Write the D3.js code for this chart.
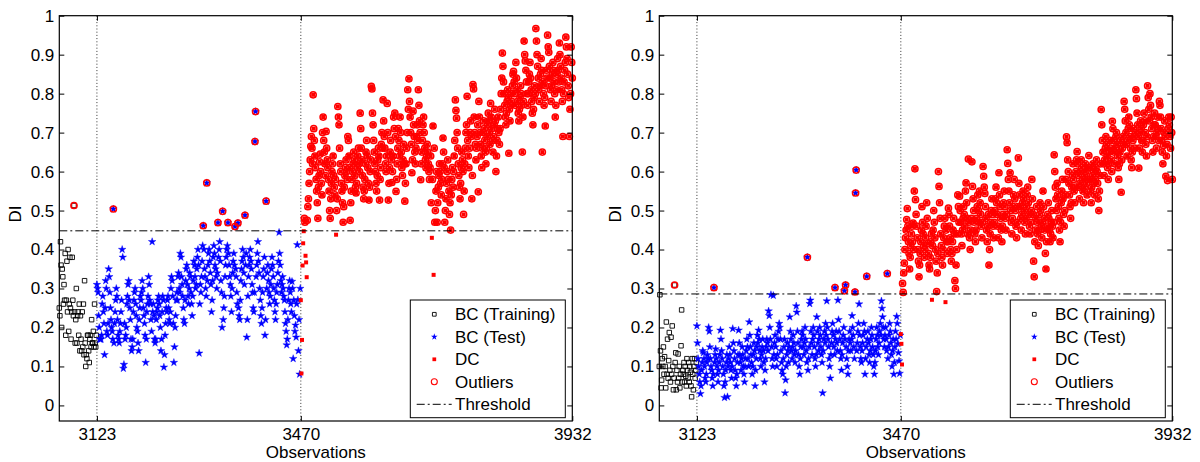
<!DOCTYPE html>
<html><head><meta charset="utf-8">
<script src="https://cdn.jsdelivr.net/npm/d3@7"></script>
<style>
html,body{margin:0;padding:0;background:#fff;}
svg text{font-family:"Liberation Sans",Arial,Helvetica,sans-serif;fill:#000;}
</style></head><body>
<svg id="chart" width="1200" height="462"></svg>
<script>
// Observation ranges
const obsStart = 3059, testStart = 3123, dcStart = 3470, obsEnd = 3932;
const xTicks = [3123, 3470, 3932];
const yTicks = [0, 0.1, 0.2, 0.3, 0.4, 0.5, 0.6, 0.7, 0.8, 0.9, 1];
const yTickLabels = ["0", "0.1", "0.2", "0.3", "0.4", "0.5", "0.6", "0.7", "0.8", "0.9", "1"];
const legendLabels = ["BC (Training)", "BC (Test)", "DC", "Outliers", "Threshold"];
const xLabel = "Observations", yLabel = "DI";

// Left panel: DI per observation
const thresholdLeft = 0.448;
const trainLeft = [
0.25,0.23,0.42,0.36,0.20,0.35,0.33,0.26,0.31,0.27,
0.39,0.18,0.27,0.37,0.24,0.40,0.19,0.26,0.38,0.25,
0.17,0.24,0.38,0.27,0.23,0.513,0.24,0.16,0.22,0.30,
0.16,0.23,0.24,0.18,0.26,0.14,0.23,0.17,0.14,0.24,
0.15,0.26,0.13,0.32,0.16,0.10,0.13,0.12,0.18,0.18,
0.14,0.11,0.17,0.18,0.15,0.22,0.16,0.16,0.19,0.15,
0.26,0.16,0.15,0.18];
const testLeft = [
0.31,0.30,0.29,0.23,0.20,0.17,0.17,0.17,0.18,0.26,0.28,0.24,0.21,0.13,0.25,0.32,0.30,0.19,0.18,0.21,
0.35,0.33,0.29,0.25,0.22,0.20,0.19,0.17,0.504,0.16,0.21,0.24,0.27,0.30,0.28,0.22,0.18,0.17,0.16,0.19,
0.21,0.24,0.27,0.40,0.38,0.095,0.105,0.21,0.17,0.18,0.20,0.26,0.28,0.31,0.32,0.27,0.25,0.22,0.17,0.14,
0.15,0.17,0.24,0.27,0.29,0.30,0.26,0.23,0.20,0.19,0.16,0.14,0.22,0.25,0.28,0.27,0.29,0.32,0.30,0.25,
0.23,0.21,0.18,0.11,0.17,0.24,0.26,0.28,0.33,0.31,0.27,0.26,0.22,0.19,0.42,0.24,0.26,0.23,0.17,0.16,
0.17,0.22,0.24,0.25,0.27,0.28,0.26,0.23,0.20,0.14,0.17,0.24,0.28,0.27,0.098,0.13,0.18,0.21,0.25,0.24,
0.27,0.28,0.25,0.22,0.21,0.24,0.30,0.33,0.32,0.28,0.21,0.11,0.15,0.20,0.23,0.27,0.29,0.27,0.33,0.34,
0.30,0.29,0.39,0.38,0.33,0.31,0.28,0.25,0.22,0.21,0.27,0.32,0.35,0.36,0.31,0.28,0.26,0.30,0.34,0.33,
0.29,0.26,0.23,0.28,0.32,0.37,0.36,0.33,0.30,0.31,0.35,0.38,0.40,0.36,0.134,0.26,0.31,0.29,0.33,0.37,
0.41,0.461,0.40,0.35,0.33,0.30,0.28,0.571,0.32,0.36,0.39,0.40,0.37,0.34,0.31,0.24,0.27,0.32,0.38,0.41,
0.39,0.36,0.35,0.33,0.30,0.34,0.469,0.38,0.40,0.42,0.37,0.32,0.29,0.20,0.498,0.22,0.25,0.28,0.33,0.36,
0.38,0.40,0.41,0.469,0.39,0.36,0.33,0.31,0.28,0.24,0.30,0.34,0.37,0.39,0.36,0.459,0.35,0.33,0.29,0.26,
0.468,0.25,0.23,0.22,0.27,0.32,0.35,0.37,0.40,0.38,0.34,0.31,0.488,0.36,0.39,0.175,0.22,0.28,0.33,0.36,
0.38,0.40,0.37,0.35,0.31,0.29,0.25,0.24,0.29,0.677,0.754,0.33,0.36,0.39,0.42,0.37,0.34,0.30,0.27,0.23,
0.21,0.25,0.29,0.33,0.35,0.38,0.18,0.22,0.524,0.30,0.34,0.36,0.32,0.29,0.26,0.28,0.31,0.35,0.38,0.36,
0.33,0.30,0.27,0.24,0.22,0.26,0.29,0.31,0.34,0.37,0.444,0.39,0.36,0.32,0.29,0.31,0.33,0.30,0.28,0.27,
0.24,0.21,0.19,0.155,0.17,0.22,0.27,0.30,0.32,0.29,0.26,0.24,0.318,0.30,0.12,0.27,0.23,0.19,0.206,0.175,
0.26,0.412,0.271,0.14,0.22,0.08,0.30];
const dcLeft = [
0.27,0.082,0.168,0.359,0.416,0.447,0.48,0.47,0.384,0.367,0.329,0.475,0.51,0.53,0.57,0.60,0.63,0.665,0.69,0.66,
0.62,0.797,0.71,0.68,0.64,0.61,0.58,0.55,0.52,0.48,0.56,0.59,0.625,0.645,0.60,0.57,0.54,0.70,0.74,0.68,
0.65,0.62,0.59,0.703,0.66,0.63,0.61,0.58,0.55,0.50,0.48,0.53,0.57,0.60,0.62,0.64,0.59,0.56,0.54,0.58,
0.438,0.50,0.53,0.767,0.74,0.72,0.66,0.62,0.60,0.57,0.55,0.52,0.47,0.51,0.56,0.59,0.61,0.63,0.60,0.58,
0.69,0.68,0.64,0.61,0.475,0.52,0.55,0.58,0.60,0.62,0.65,0.63,0.59,0.56,0.545,0.57,0.61,0.64,0.66,0.62,
0.60,0.75,0.71,0.66,0.63,0.59,0.56,0.53,0.55,0.58,0.62,0.65,0.68,0.64,0.61,0.57,0.527,0.56,0.60,0.63,
0.819,0.812,0.75,0.72,0.68,0.65,0.62,0.60,0.57,0.55,0.59,0.63,0.66,0.64,0.527,0.58,0.61,0.67,0.70,0.66,
0.784,0.73,0.69,0.66,0.62,0.60,0.64,0.775,0.70,0.527,0.57,0.61,0.65,0.68,0.63,0.572,0.60,0.64,0.74,0.71,
0.75,0.69,0.549,0.58,0.62,0.66,0.71,0.68,0.64,0.74,0.70,0.65,0.61,0.59,0.63,0.67,0.62,0.524,0.57,0.62,
0.66,0.70,0.81,0.76,0.838,0.78,0.74,0.70,0.67,0.597,0.63,0.755,0.72,0.69,0.65,0.62,0.66,0.69,0.72,0.68,
0.81,0.77,0.73,0.70,0.579,0.62,0.65,0.68,0.72,0.74,0.70,0.66,0.63,0.61,0.64,0.67,0.65,0.62,0.60,0.58,
0.61,0.64,0.52,0.43,0.58,0.717,0.335,0.66,0.47,0.50,0.55,0.60,0.47,0.52,0.56,0.59,0.62,0.60,0.57,0.54,
0.58,0.62,0.686,0.65,0.61,0.47,0.50,0.53,0.57,0.60,0.63,0.58,0.55,0.49,0.52,0.45,0.54,0.58,0.61,0.56,
0.60,0.64,0.68,0.784,0.757,0.737,0.70,0.66,0.62,0.59,0.56,0.53,0.57,0.61,0.65,0.63,0.60,0.49,0.55,0.62,
0.66,0.70,0.72,0.793,0.68,0.64,0.61,0.66,0.70,0.73,0.69,0.53,0.59,0.823,0.812,0.74,0.70,0.67,0.63,0.66,
0.69,0.72,0.548,0.78,0.74,0.70,0.67,0.64,0.61,0.66,0.70,0.73,0.71,0.68,0.65,0.62,0.66,0.69,0.72,0.75,
0.73,0.70,0.67,0.775,0.74,0.71,0.68,0.65,0.69,0.72,0.76,0.73,0.60,0.64,0.68,0.71,0.74,0.70,0.67,0.71,
0.76,0.80,0.84,0.904,0.87,0.83,0.80,0.77,0.74,0.72,0.75,0.78,0.81,0.79,0.647,0.76,0.73,0.77,0.80,0.78,
0.82,0.85,0.857,0.83,0.80,0.77,0.88,0.84,0.81,0.78,0.75,0.73,0.76,0.79,0.82,0.80,0.77,0.65,0.74,0.78,
0.935,0.90,0.884,0.86,0.83,0.80,0.77,0.80,0.83,0.85,0.88,0.84,0.81,0.78,0.75,0.72,0.76,0.79,0.82,0.80,
0.967,0.935,0.90,0.87,0.84,0.81,0.78,0.82,0.85,0.89,0.86,0.65,0.83,0.80,0.77,0.79,0.717,0.82,0.86,0.84,
0.95,0.92,0.906,0.87,0.84,0.81,0.78,0.82,0.85,0.88,0.86,0.83,0.80,0.74,0.77,0.81,0.85,0.89,0.86,0.83,
0.93,0.90,0.87,0.84,0.81,0.78,0.69,0.80,0.83,0.86,0.88,0.945,0.92,0.89,0.85,0.82,0.79,0.69,0.76,0.80,
0.92,0.88,0.84];

// Right panel: DI per observation
const thresholdRight = 0.286;
const trainRight = [
0.10,0.284,0.14,0.045,0.065,0.12,0.10,0.15,0.08,0.125,
0.10,0.045,0.214,0.08,0.17,0.07,0.115,0.187,0.09,0.06,
0.175,0.08,0.204,0.10,0.04,0.07,0.309,0.11,0.135,0.04,
0.09,0.06,0.132,0.07,0.10,0.045,0.08,0.153,0.245,0.06,
0.09,0.08,0.11,0.06,0.10,0.075,0.05,0.12,0.09,0.07,
0.11,0.06,0.10,0.085,0.05,0.022,0.12,0.08,0.04,0.10,
0.12,0.07,0.09,0.11];
const testRight = [
0.204,0.16,0.12,0.10,0.08,0.06,0.03,0.05,0.09,0.11,0.14,0.135,0.12,0.10,0.07,0.06,0.08,0.11,0.13,0.12,
0.20,0.19,0.15,0.12,0.10,0.09,0.07,0.05,0.08,0.302,0.11,0.13,0.145,0.12,0.10,0.08,0.06,0.09,0.11,0.13,
0.193,0.17,0.14,0.12,0.10,0.08,0.05,0.02,0.06,0.09,0.11,0.13,0.022,0.10,0.12,0.15,0.13,0.11,0.09,0.07,
0.10,0.197,0.16,0.14,0.12,0.09,0.07,0.05,0.08,0.11,0.13,0.193,0.16,0.13,0.11,0.09,0.12,0.15,0.13,0.10,
0.08,0.06,0.10,0.12,0.14,0.17,0.15,0.12,0.10,0.214,0.18,0.15,0.13,0.11,0.08,0.10,0.13,0.16,0.14,0.05,
0.09,0.12,0.15,0.18,0.16,0.193,0.17,0.14,0.12,0.10,0.13,0.15,0.17,0.14,0.11,0.06,0.09,0.12,0.15,0.17,
0.16,0.14,0.242,0.23,0.20,0.17,0.284,0.15,0.12,0.10,0.282,0.13,0.16,0.18,0.15,0.12,0.10,0.13,0.17,0.19,
0.21,0.20,0.17,0.14,0.11,0.09,0.08,0.12,0.15,0.17,0.032,0.065,0.10,0.13,0.16,0.14,0.11,0.15,0.227,0.19,
0.17,0.14,0.12,0.15,0.18,0.16,0.13,0.11,0.14,0.255,0.239,0.19,0.16,0.13,0.10,0.08,0.12,0.15,0.17,0.19,
0.18,0.15,0.13,0.16,0.20,0.17,0.14,0.11,0.38,0.09,0.12,0.15,0.261,0.27,0.19,0.16,0.13,0.17,0.20,0.18,
0.15,0.12,0.10,0.13,0.227,0.19,0.16,0.14,0.17,0.20,0.18,0.15,0.13,0.11,0.032,0.14,0.17,0.19,0.16,0.21,
0.18,0.268,0.20,0.17,0.15,0.12,0.10,0.07,0.13,0.16,0.19,0.21,0.18,0.15,0.13,0.302,0.17,0.19,0.16,0.14,
0.27,0.22,0.19,0.17,0.14,0.12,0.09,0.13,0.16,0.18,0.20,0.294,0.17,0.309,0.15,0.12,0.10,0.08,0.14,0.17,
0.19,0.16,0.14,0.17,0.23,0.20,0.18,0.15,0.12,0.291,0.545,0.604,0.14,0.16,0.19,0.21,0.26,0.18,0.15,0.12,
0.11,0.14,0.16,0.18,0.21,0.19,0.08,0.12,0.15,0.331,0.17,0.19,0.16,0.13,0.11,0.14,0.17,0.20,0.18,0.15,
0.13,0.10,0.08,0.11,0.14,0.17,0.20,0.18,0.15,0.13,0.16,0.19,0.21,0.18,0.268,0.249,0.227,0.20,0.17,0.15,
0.18,0.20,0.17,0.14,0.338,0.12,0.15,0.18,0.21,0.19,0.16,0.13,0.10,0.14,0.17,0.08,0.11,0.15,0.19,0.17,
0.228,0.21,0.158,0.135,0.114,0.082,0.18];
const dcRight = [
0.183,0.158,0.105,0.313,0.29,0.34,0.365,0.40,0.43,0.45,0.477,0.505,0.46,0.42,0.39,0.35,0.38,0.41,0.44,0.46,
0.42,0.468,0.40,0.55,0.607,0.528,0.49,0.46,0.43,0.40,0.37,0.33,0.36,0.39,0.42,0.45,0.51,0.47,0.44,0.41,
0.38,0.40,0.43,0.46,0.52,0.48,0.415,0.39,0.36,0.35,0.38,0.42,0.44,0.271,0.41,0.45,0.50,0.47,0.43,0.40,
0.37,0.292,0.34,0.39,0.60,0.562,0.52,0.48,0.44,0.41,0.38,0.36,0.40,0.43,0.46,0.48,0.265,0.45,0.42,0.39,
0.42,0.506,0.49,0.46,0.43,0.40,0.37,0.39,0.42,0.45,0.48,0.44,0.32,0.30,0.36,0.40,0.44,0.54,0.51,0.47,
0.537,0.50,0.47,0.44,0.41,0.45,0.48,0.51,0.49,0.46,0.55,0.571,0.52,0.48,0.44,0.632,0.47,0.43,0.40,0.45,
0.48,0.625,0.562,0.53,0.50,0.47,0.44,0.42,0.45,0.48,0.51,0.54,0.50,0.47,0.55,0.52,0.49,0.46,0.43,0.47,
0.613,0.588,0.56,0.544,0.51,0.48,0.45,0.42,0.46,0.49,0.36,0.40,0.44,0.47,0.50,0.53,0.49,0.46,0.43,0.47,
0.50,0.53,0.56,0.52,0.49,0.46,0.43,0.597,0.54,0.51,0.48,0.45,0.42,0.46,0.49,0.52,0.55,0.51,0.48,0.45,
0.49,0.656,0.621,0.58,0.55,0.52,0.597,0.50,0.47,0.44,0.48,0.51,0.54,0.58,0.53,0.50,0.46,0.43,0.47,0.51,
0.635,0.57,0.54,0.51,0.48,0.45,0.49,0.52,0.55,0.53,0.50,0.47,0.44,0.48,0.51,0.54,0.56,0.52,0.49,0.46,
0.44,0.47,0.50,0.58,0.53,0.49,0.37,0.33,0.42,0.45,0.48,0.51,0.47,0.44,0.41,0.45,0.49,0.52,0.50,0.46,
0.43,0.47,0.55,0.51,0.48,0.45,0.39,0.35,0.42,0.46,0.49,0.52,0.48,0.45,0.42,0.44,0.47,0.50,0.46,0.43,
0.47,0.643,0.60,0.56,0.53,0.50,0.57,0.54,0.51,0.48,0.45,0.42,0.47,0.52,0.55,0.58,0.53,0.49,0.46,0.50,
0.54,0.58,0.689,0.674,0.63,0.60,0.57,0.54,0.51,0.48,0.52,0.56,0.59,0.62,0.58,0.55,0.52,0.56,0.60,0.63,
0.651,0.62,0.59,0.56,0.53,0.57,0.60,0.63,0.61,0.58,0.55,0.52,0.56,0.59,0.62,0.60,0.57,0.54,0.58,0.61,
0.641,0.61,0.58,0.55,0.52,0.56,0.59,0.62,0.60,0.57,0.54,0.58,0.61,0.63,0.60,0.57,0.53,0.50,0.55,0.59,
0.62,0.759,0.72,0.68,0.65,0.62,0.59,0.63,0.66,0.69,0.67,0.64,0.61,0.58,0.62,0.65,0.68,0.66,0.63,0.60,
0.729,0.71,0.68,0.65,0.62,0.66,0.69,0.70,0.67,0.64,0.61,0.58,0.62,0.65,0.68,0.547,0.63,0.66,0.69,0.67,
0.78,0.76,0.73,0.70,0.67,0.64,0.68,0.71,0.74,0.72,0.69,0.66,0.63,0.61,0.65,0.68,0.71,0.69,0.66,0.70,
0.81,0.787,0.75,0.72,0.69,0.609,0.66,0.70,0.73,0.71,0.68,0.65,0.68,0.72,0.75,0.73,0.70,0.67,0.64,0.69,
0.82,0.79,0.76,0.73,0.80,0.77,0.74,0.71,0.68,0.65,0.69,0.72,0.75,0.72,0.69,0.66,0.70,0.74,0.71,0.68,
0.78,0.77,0.74,0.71,0.68,0.65,0.62,0.667,0.70,0.73,0.69,0.588,0.64,0.67,0.577,0.71,0.74,0.72,0.69,0.66,
0.74,0.70,0.58];

const panels = [
  {left: 59.3, threshold: thresholdLeft, train: trainLeft, test: testLeft, dc: dcLeft},
  {left: 659.3, threshold: thresholdRight, train: trainRight, test: testRight, dc: dcRight}
];

const svg = d3.select("#chart");
const plotW = 513, plotTop = 15.7, plotBottom = 421;
const FONT = 17;
const symSquareOpen = d3.symbol().type(d3.symbolSquare).size(20);
const symSquareFill = d3.symbol().type(d3.symbolSquare).size(16);
const symStar = d3.symbol().type(d3.symbolStar).size(18);

panels.forEach(p => {
  const x = d3.scaleLinear().domain([obsStart, obsEnd]).range([p.left, p.left + plotW]);
  const y = d3.scaleLinear().domain([-0.04, 1]).range([plotBottom, plotTop]);
  const g = svg.append("g");

  // separators between training, test and damaged-condition segments
  g.selectAll("line.sep").data([testStart, dcStart]).join("line")
    .attr("x1", d => x(d)).attr("x2", d => x(d))
    .attr("y1", plotTop).attr("y2", plotBottom)
    .attr("stroke", "#333").attr("stroke-width", 1).attr("stroke-dasharray", "1,2.2");

  const train = p.train.map((v, i) => ({obs: obsStart + i, v}));
  const test = p.test.map((v, i) => ({obs: testStart + i, v}));
  const dc = p.dc.map((v, i) => ({obs: dcStart + i, v}));

  g.selectAll("path.train").data(train).join("path")
    .attr("d", symSquareOpen)
    .attr("transform", d => `translate(${x(d.obs)},${y(d.v)})`)
    .attr("fill", "none").attr("stroke", "#000").attr("stroke-width", 0.9);

  g.selectAll("path.test").data(test).join("path")
    .attr("d", symStar)
    .attr("transform", d => `translate(${x(d.obs)},${y(d.v)})`)
    .attr("fill", "#0000ff").attr("stroke", "#0000ff").attr("stroke-width", 0.4);

  g.selectAll("path.dc").data(dc).join("path")
    .attr("d", symSquareFill)
    .attr("transform", d => `translate(${x(d.obs)},${y(d.v)})`)
    .attr("fill", "#ff0000");

  // outliers: any observation above the threshold
  const outliers = train.concat(test, dc).filter(d => d.v > p.threshold);
  g.selectAll("circle.out").data(outliers).join("circle")
    .attr("cx", d => x(d.obs)).attr("cy", d => y(d.v)).attr("r", 3.1)
    .attr("fill", "none").attr("stroke", "#ff0000").attr("stroke-width", 1.5);

  // threshold
  g.append("line")
    .attr("x1", p.left).attr("x2", p.left + plotW)
    .attr("y1", y(p.threshold)).attr("y2", y(p.threshold))
    .attr("stroke", "#000").attr("stroke-width", 1).attr("stroke-dasharray", "8,3,2,3");

  // axes
  const yAxisL = d3.axisLeft(y).tickValues(yTicks).tickFormat((d, i) => yTickLabels[i])
    .tickSizeInner(-5).tickSizeOuter(0).tickPadding(5);
  const yAxisR = d3.axisRight(y).tickValues(yTicks).tickFormat("").tickSizeInner(-5).tickSizeOuter(0);
  const xAxisB = d3.axisBottom(x).tickValues(xTicks).tickFormat(d3.format("d"))
    .tickSizeInner(-5).tickSizeOuter(0).tickPadding(7);
  const xAxisT = d3.axisTop(x).tickValues(xTicks).tickFormat("").tickSizeInner(-5).tickSizeOuter(0);

  const ga = [
    g.append("g").attr("transform", `translate(${p.left},0)`).call(yAxisL),
    g.append("g").attr("transform", `translate(${p.left + plotW},0)`).call(yAxisR),
    g.append("g").attr("transform", `translate(0,${plotBottom})`).call(xAxisB),
    g.append("g").attr("transform", `translate(0,${plotTop})`).call(xAxisT)
  ];
  ga.forEach(a => {
    a.select(".domain").remove();
    a.selectAll(".tick line").attr("stroke", "#000").attr("stroke-width", 1);
    a.selectAll("text").attr("font-size", FONT).attr("font-family", null).attr("fill", "#000");
  });

  g.append("rect")
    .attr("x", p.left).attr("y", plotTop).attr("width", plotW).attr("height", plotBottom - plotTop)
    .attr("fill", "none").attr("stroke", "#000").attr("stroke-width", 1.2);

  g.append("text").attr("x", p.left + plotW / 2).attr("y", 458)
    .attr("text-anchor", "middle").attr("font-size", FONT).text(xLabel);
  g.append("text").attr("transform", `translate(${p.left - 38},214) rotate(-90)`)
    .attr("text-anchor", "middle").attr("font-size", FONT).text(yLabel);

  // legend
  const lx = p.left + 351, ly = 300, rowY = i => 314.3 + i * 22.5;
  const leg = g.append("g");
  leg.append("rect").attr("x", lx).attr("y", ly).attr("width", 155).attr("height", 117.7)
    .attr("fill", "#fff").attr("stroke", "#000").attr("stroke-width", 1);
  const sx = p.left + 375;
  leg.append("path").attr("d", d3.symbol().type(d3.symbolSquare).size(14)())
    .attr("transform", `translate(${sx},${rowY(0)})`).attr("fill", "none").attr("stroke", "#000").attr("stroke-width", 0.9);
  leg.append("path").attr("d", d3.symbol().type(d3.symbolStar).size(14)())
    .attr("transform", `translate(${sx},${rowY(1)})`).attr("fill", "#0000ff");
  leg.append("path").attr("d", d3.symbol().type(d3.symbolSquare).size(14)())
    .attr("transform", `translate(${sx},${rowY(2)})`).attr("fill", "#ff0000");
  leg.append("circle").attr("cx", sx).attr("cy", rowY(3)).attr("r", 3)
    .attr("fill", "none").attr("stroke", "#ff0000").attr("stroke-width", 1.1);
  leg.append("line").attr("x1", p.left + 357.4).attr("x2", p.left + 392.4)
    .attr("y1", rowY(4)).attr("y2", rowY(4))
    .attr("stroke", "#000").attr("stroke-width", 1).attr("stroke-dasharray", "8,3,2,3");
  leg.selectAll("text.lbl").data(legendLabels).join("text")
    .attr("x", p.left + 395.7).attr("y", (d, i) => rowY(i)).attr("dy", "0.36em")
    .attr("font-size", FONT).text(d => d);
});
</script>
</body></html>
